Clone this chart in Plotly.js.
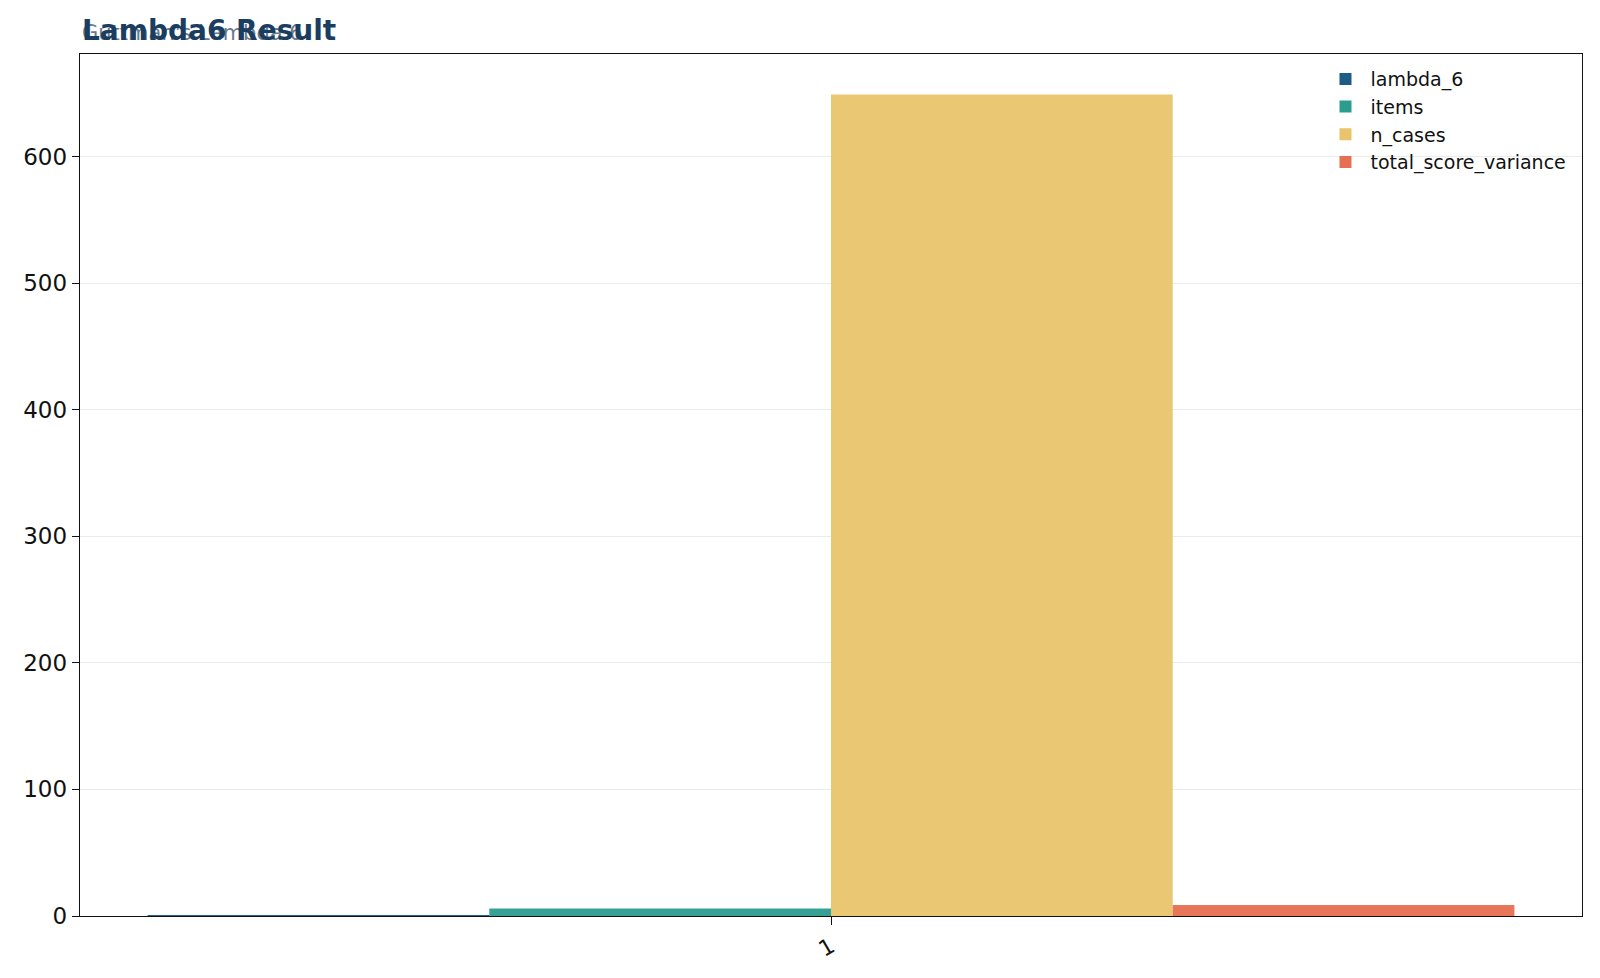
<!DOCTYPE html>
<html>
<head>
<meta charset="utf-8">
<script src="https://cdn.plot.ly/plotly-3.0.1.min.js"></script>
<style>html,body{margin:0;padding:0;background:#fff;}#chart{width:1600px;height:978px;}</style>
</head>
<body>
<div id="chart"></div>
<script>
const categories = ['1'];
const seriesNames = ['lambda_6', 'items', 'n_cases', 'total_score_variance'];
const lambda6 = [0.8];
const items = [6];
const nCases = [649];
const totalScoreVariance = [8.7];
const yTicks = [0, 100, 200, 300, 400, 500, 600];
const colors = ['#1f5b87', '#2a9d8f', '#e9c46a', '#e76f51'];
const values = [lambda6, items, nCases, totalScoreVariance];

const traces = seriesNames.map((name, i) => ({
  type: 'bar',
  name: name,
  x: categories,
  y: values[i],
  marker: {color: colors[i], opacity: 0.95, line: {width: 0}},
  hoverinfo: 'x+y+name'
}));

const layout = {
  width: 1600, height: 978,
  margin: {l: 80, r: 18, t: 54, b: 62},
  paper_bgcolor: '#ffffff', plot_bgcolor: '#ffffff',
  font: {family: 'DejaVu Sans', size: 22, color: '#111'},
  barmode: 'group',
  bargap: 0.09,
  bargroupgap: 0,
  showlegend: true,
  legend: {x: 0.993, y: 0.993, xanchor: 'right', yanchor: 'top', bgcolor: 'rgba(255,255,255,0)',
           font: {family: 'DejaVu Sans', size: 19, color: '#111'}, tracegroupgap: 0, itemwidth: 40},
  xaxis: {type: 'category', range: [-0.5, 0.5], showgrid: false, tickangle: -30,
          ticks: 'outside', ticklen: 8, tickcolor: '#111', showline: true, linecolor: '#111', linewidth: 1.3,
          mirror: true, tickfont: {size: 22}},
  yaxis: {range: [0, 681], tickvals: yTicks, ticktext: yTicks.map(String), showgrid: true,
          gridcolor: '#ebebeb', gridwidth: 1, zeroline: false, ticks: 'outside', ticklen: 7, tickcolor: '#111',
          showline: true, linecolor: '#111', linewidth: 1.3, mirror: true, tickfont: {size: 23}},
  annotations: [
    {text: "Guttman's Lambda 6", x: 0, y: 33, xref: 'paper', yref: 'paper', xanchor: 'left', yanchor: 'middle',
     showarrow: false, font: {family: 'DejaVu Sans', size: 21, color: '#6a7b8c'}},
    {text: '<b>Lambda6 Result</b>', x: 0, y: 31, xref: 'paper', yref: 'paper', xanchor: 'left', yanchor: 'middle',
     showarrow: false, font: {family: 'DejaVu Sans', size: 28, color: '#1b3d5f'}}
  ]
};
// place titles in pixel space via paper coordinates
const plotH = 978 - 54 - 62;
layout.annotations.forEach(a => { a.y = 1 + (54 - a.y) / plotH; });

Plotly.newPlot('chart', traces, layout, {displayModeBar: false, staticPlot: true});
</script>
</body>
</html>
